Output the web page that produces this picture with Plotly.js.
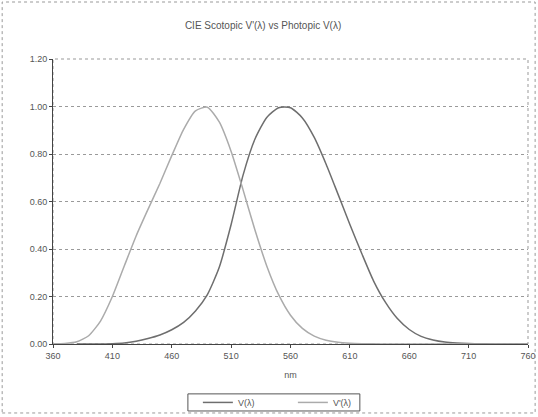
<!DOCTYPE html>
<html>
<head>
<meta charset="utf-8">
<script src="https://cdn.plot.ly/plotly-3.0.1.min.js"></script>
<style>html,body{margin:0;padding:0;background:#fff;}#chart{width:538px;height:417px;}</style>
</head>
<body>
<div id="chart"></div>
<script>
// Photopic V(λ)
const photopicNm = [380,390,400,410,420,430,440,450,460,470,480,490,500,510,520,530,540,550,560,570,580,590,600,610,620,630,640,650,660,670,680,690,700,710,720,730,740,750,760];
const photopicV = [0.000039,0.00012,0.000396,0.00121,0.004,0.0116,0.023,0.038,0.06,0.091,0.139,0.208,0.323,0.503,0.71,0.862,0.954,0.995,0.995,0.952,0.87,0.757,0.631,0.503,0.381,0.265,0.175,0.107,0.061,0.032,0.017,0.0082,0.0041,0.0021,0.00105,0.00052,0.00025,0.00012,0.00006];
// Scotopic V'(λ) as plotted in the reference
const scotopicNm = [360,370,380,390,400,410,420,430,440,450,460,470,480,490,500,510,520,530,540,550,560,570,580,590,600,610,620,630,640,650,660,670,680,690,700,710,720,730,740,750,760];
const scotopicV = [0.000589,0.002209,0.00929,0.03484,0.0966,0.1998,0.3281,0.455,0.567,0.676,0.793,0.904,0.982,0.997,0.935,0.811,0.65,0.481,0.3288,0.2076,0.1212,0.0655,0.03315,0.01593,0.00737,0.003335,0.001497,0.000677,0.0003129,0.000148,0.0000715,0.0000353,0.0000178,0.0000091,0.0000048,0.0000025,0.0000014,0.0000008,0.0000004,0.0000002,0.0000001];
const xTicks = [360,410,460,510,560,610,660,710,760];
const yTicks = [0,0.2,0.4,0.6,0.8,1.0,1.2];

const font = {family:'Liberation Sans, Arial, sans-serif', size:9, color:'#555'};
const traces = [
  {x:photopicNm, y:photopicV, type:'scatter', mode:'lines', name:'V(λ)',
   line:{color:'#6e6e6e', width:1.5, shape:'spline', smoothing:0.6}},
  {x:scotopicNm, y:scotopicV, type:'scatter', mode:'lines', name:"V'(λ)",
   line:{color:'#ababab', width:1.5, shape:'spline', smoothing:0.6}}
];
const layout = {
  width:538, height:417,
  margin:{l:53, r:10, t:59, b:73, autoexpand:false},
  paper_bgcolor:'#fff', plot_bgcolor:'#fff',
  font:font,
  title:{text:"CIE Scotopic V'(λ) vs Photopic V(λ)", font:{family:font.family, size:10, color:'#555'},
         xref:'container', x:0.489, xanchor:'center', yref:'container', y:0.94, yanchor:'middle'},
  xaxis:{range:[360,760], tickvals:xTicks, ticktext:xTicks.map(String), showgrid:false, zeroline:false,
         showline:true, linecolor:'#444', linewidth:1, ticks:'outside', ticklen:3, tickcolor:'#444',
         title:{text:'nm', font:{family:font.family, size:9, color:'#555'}, standoff:11}},
  yaxis:{range:[0,1.2], tickvals:yTicks, ticktext:yTicks.map(v=>v.toFixed(2)), showgrid:true,
         gridcolor:'#9a9a9a', griddash:'dot', gridwidth:1, zeroline:false,
         showline:true, linecolor:'#444', linewidth:1, ticks:'outside', ticklen:3, tickcolor:'#444'},
  showlegend:true,
  legend:{orientation:'h', x:0.505, xanchor:'center', xref:'paper', y:-0.205, yanchor:'middle',
          borderwidth:0, bgcolor:'rgba(0,0,0,0)', font:{family:font.family, size:9, color:'#555'},
          entrywidth:50, entrywidthmode:'pixels', itemwidth:30},
  shapes:[
    {type:'rect', xref:'paper', yref:'paper', x0:0, x1:1, y0:0, y1:1, line:{color:'#999', width:1, dash:'dot'}, layer:'below'},
    {type:'rect', xref:'paper', yref:'paper', x0:-0.107, x1:1.015, y0:-0.242, y1:1.2, line:{color:'#999', width:1, dash:'dot'}},
    {type:'rect', xref:'paper', yref:'paper', x0:0.284, x1:0.646, y0:-0.235, y1:-0.175, line:{color:'#555', width:1}, fillcolor:'#fff', layer:'below'}
  ]
};
Plotly.newPlot('chart', traces, layout, {staticPlot:true, displayModeBar:false});
</script>
</body>
</html>
